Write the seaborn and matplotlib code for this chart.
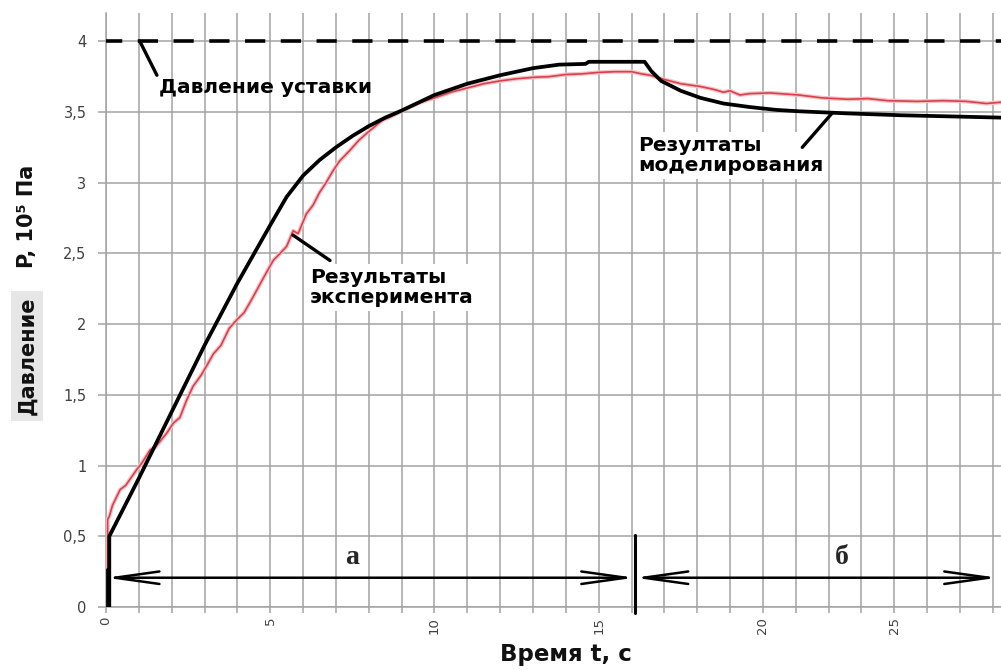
import matplotlib
matplotlib.use("Agg")
import matplotlib.pyplot as plt
import matplotlib.patheffects as pe
import seaborn as sns
import pandas as pd

# ---------------- data ----------------
# time axis in grid units (one grid cell per unit)
model_t = [0.1, 0.1, 1.0, 2.0, 3.0, 4.0, 5.0, 5.5, 6.0, 6.5, 7.0, 7.5, 8.0, 8.5,
           9.0, 10.0, 11.0, 12.0, 13.0, 13.8, 14.6, 14.7, 15.5, 16.4, 16.6, 16.9,
           17.5, 18.1, 18.8, 19.6, 20.4, 21.1, 22.6, 24.2, 25.5, 27.3]
model_p = [0.0, 0.5, 0.91, 1.38, 1.85, 2.29, 2.70, 2.90, 3.05, 3.16, 3.25, 3.33,
           3.40, 3.46, 3.51, 3.62, 3.70, 3.76, 3.81, 3.835, 3.84, 3.855, 3.855,
           3.855, 3.79, 3.72, 3.65, 3.60, 3.56, 3.535, 3.515, 3.505, 3.49, 3.477,
           3.47, 3.46]

exp_t = [0.05, 0.05, 0.1, 0.2, 0.43, 0.6, 0.93, 1.1, 1.34, 1.5, 1.85, 2.05, 2.25,
         2.45, 2.65, 2.9, 3.1, 3.27, 3.5, 3.75, 3.98, 4.2, 4.4, 4.59, 4.8, 5.09,
         5.3, 5.5, 5.7, 5.85, 6.1, 6.3, 6.5, 6.7, 6.9, 7.1, 7.43, 7.7, 7.94, 8.2,
         8.4, 8.7, 8.95, 9.3, 9.6, 10.0, 10.5, 11.0, 11.5, 12.0, 12.5, 13.0, 13.5,
         14.0, 14.5, 15.0, 15.5, 16.0, 16.3, 16.56, 17.0, 17.5, 18.1, 18.5, 18.8,
         19.0, 19.3, 19.6, 20.2, 21.1, 21.8, 22.6, 23.2, 23.8, 24.7, 25.5, 26.2,
         26.8, 27.3]
exp_p = [0.0, 0.62, 0.64, 0.72, 0.83, 0.86, 0.97, 1.02, 1.11, 1.13, 1.23, 1.30,
         1.34, 1.46, 1.56, 1.64, 1.72, 1.79, 1.85, 1.97, 2.03, 2.08, 2.16, 2.24,
         2.33, 2.45, 2.50, 2.55, 2.66, 2.64, 2.78, 2.84, 2.93, 3.00, 3.08, 3.15,
         3.23, 3.30, 3.35, 3.40, 3.44, 3.47, 3.50, 3.54, 3.57, 3.60, 3.64, 3.67,
         3.70, 3.72, 3.735, 3.745, 3.75, 3.765, 3.77, 3.78, 3.785, 3.785, 3.77,
         3.76, 3.73, 3.70, 3.68, 3.66, 3.64, 3.65, 3.62, 3.63, 3.635, 3.62, 3.60,
         3.59, 3.595, 3.58, 3.575, 3.58, 3.575, 3.56, 3.57]

setpoint = 4.0
switch_t = 16.1            # boundary between phases "а" and "б"
phase_labels = ["а", "б"]
phase_label_t = [7.5, 22.4]

x_tick_pos = [0, 5, 10, 15, 20, 24]
x_tick_labels = ["0", "5", "10", "15", "20", "25"]
y_ticks = [0, 0.5, 1, 1.5, 2, 2.5, 3, 3.5, 4]
y_tick_labels = ["0", "0,5", "1", "1,5", "2", "2,5", "3", "3,5", "4"]

x_max = 27.25
y_max = 4.2

# ---------------- figure ----------------
sns.set_theme(style="white")
plt.rcParams["font.family"] = ["DejaVu Sans"]

fig = plt.figure(figsize=(10.01, 6.70), dpi=100)
fig.patch.set_facecolor("white")
ax = fig.add_axes([106 / 1001, 63 / 670, (1001 - 106) / 1001, (607 - 13) / 670])
ax.set_facecolor("white")

grid_c = "#a3a3a3"
ax.set_xlim(0, x_max)
ax.set_ylim(0, y_max)
ax.set_xticks(range(0, int(x_max) + 1))
lab = {p: l for p, l in zip(x_tick_pos, x_tick_labels)}
ax.set_xticklabels([lab.get(i, "") for i in range(0, int(x_max) + 1)],
                   rotation=90, fontsize=9.5, color="#404040")
ax.set_yticks(y_ticks)
ax.set_yticklabels(y_tick_labels, fontsize=10.5, color="#404040")
ax.grid(True, color=grid_c, lw=1.1)
ax.set_axisbelow(True)
ax.tick_params(axis="x", length=4, width=1.1, color=grid_c, pad=3, bottom=True)
ax.tick_params(axis="y", length=6, width=1.1, color=grid_c, pad=8, left=True)
for s in ["top", "right"]:
    ax.spines[s].set_visible(False)
for s in ["left", "bottom"]:
    ax.spines[s].set_color(grid_c)
    ax.spines[s].set_linewidth(1.1)

# setpoint line
ax.axhline(setpoint, color="black", lw=2.6,
           linestyle=(1.1, (5.6, 4.3)), zorder=3)

# experiment (red) and model (black)
df_exp = pd.DataFrame({"t": exp_t, "p": exp_p})
df_mod = pd.DataFrame({"t": model_t, "p": model_p})
sns.lineplot(data=df_exp, x="t", y="p", sort=False, estimator=None, ax=ax,
             color="#d8404c", lw=1.2, zorder=4,
             path_effects=[pe.Stroke(linewidth=3.0, foreground="#f5c3c7"), pe.Normal()])
sns.lineplot(data=df_mod, x="t", y="p", sort=False, estimator=None, ax=ax,
             color="black", lw=2.7, zorder=5)
ax.set_xlabel("")
ax.set_ylabel("")

# annotations
afont = dict(fontsize=14.5, fontweight="bold", color="black")
leader = dict(arrowstyle="-", lw=2.4, color="black", shrinkA=0, shrinkB=0)
ax.annotate("", xy=(1.03, 4.0), xytext=(1.55, 3.76), arrowprops=leader, zorder=8)
ax.text(1.6, 3.67, "Давление уставки", ha="left", va="center", zorder=6, **afont)

ax.annotate("", xy=(5.69, 2.63), xytext=(6.82, 2.45), arrowprops=leader, zorder=8)
ax.text(6.2, 2.26, "Результаты\nэксперимента", ha="left", va="center",
        linespacing=1.05, zorder=6,
        bbox=dict(facecolor="white", edgecolor="none", pad=3), **afont)

ax.annotate("", xy=(22.1, 3.49), xytext=(21.2, 3.25), arrowprops=leader, zorder=8)
ax.text(16.2, 3.19, "Резултаты\nмоделирования", ha="left", va="center",
        linespacing=1.05, zorder=6,
        bbox=dict(facecolor="white", edgecolor="none", pad=3), **afont)

# phase arrows
arr_y = 0.207
astyle = "<->,head_length=3.2,head_width=0.45"
ax.annotate("", xy=(0.0, arr_y), xytext=(switch_t, arr_y),
            arrowprops=dict(arrowstyle=astyle, lw=1.8, color="black",
                            shrinkA=0, shrinkB=0, mutation_scale=10), zorder=6)
ax.annotate("", xy=(switch_t, arr_y), xytext=(x_max - 0.1, arr_y),
            arrowprops=dict(arrowstyle=astyle, lw=1.8, color="black",
                            shrinkA=0, shrinkB=0, mutation_scale=10), zorder=6)
ax.plot([switch_t, switch_t], [-0.04, 0.51], color="black", lw=2.2,
        clip_on=False, zorder=6)
ax.plot([0.02, 0.02], [0.0, 0.27], color="black", lw=2.0, zorder=6)
for lbl, t in zip(phase_labels, phase_label_t):
    ax.text(t, 0.35, lbl, ha="center", va="center", fontsize=20,
            fontweight="bold", family="Liberation Serif", zorder=6)

# axis titles
fig.text(566 / 1001, 1 - 655 / 670, "Время t, с", ha="center", va="center",
         fontsize=16.5, fontweight="bold", color="#111111")
fig.text(27 / 1001, 1 - 356 / 670, "Давление", rotation=90, ha="center",
         va="center", fontsize=15, fontweight="bold", color="#111111",
         bbox=dict(facecolor="#e6e6e6", edgecolor="none", pad=4))
fig.text(27 / 1001, 1 - 216 / 670, "P, 10⁵ Па", rotation=90, ha="center",
         va="center", fontsize=15, fontweight="bold", color="#111111")

fig.savefig("out.png", dpi=100, facecolor="white")
